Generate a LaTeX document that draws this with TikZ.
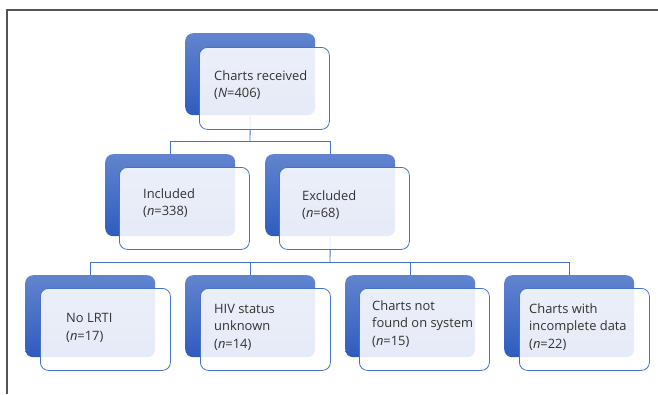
\documentclass[tikz,border=0pt]{standalone}
\usepackage{fontspec}
\setmainfont{Open Sans}
\definecolor{backtop}{RGB}{98,132,206}
\definecolor{backbot}{RGB}{46,92,190}
\definecolor{edgec}{RGB}{70,114,196}
\definecolor{framec}{RGB}{85,85,85}
\definecolor{txt}{RGB}{50,50,50}
\tikzset{
  backbox/.style={rectangle, rounded corners=8pt, top color=backtop, bottom color=backbot,
    draw=none, minimum width=130pt, minimum height=82pt, inner sep=0pt, anchor=north west},
  frontbox/.style={rectangle, rounded corners=8pt, fill=white, fill opacity=0.88,
    draw=edgec, draw opacity=1, line width=0.8pt, minimum width=130pt, minimum height=82pt,
    inner sep=0pt, anchor=north west},
  lbl/.style={anchor=west, align=left, font=\fontsize{12.9}{17.5}\selectfont, text=txt, inner sep=0pt},
  conn/.style={draw=edgec, line width=0.9pt}
}
\begin{document}
\begin{tikzpicture}[x=1pt,y=-1pt]
\useasboundingbox (0,0) rectangle (658,394);
\draw[framec, line width=1.2pt] (7,394) -- (7,10) -- (658,10);
% back boxes
\node[backbox] (topB) at (185,33) {};
\node[backbox] (incB) at (105,154) {};
\node[backbox] (excB) at (265,154) {};
\node[backbox] (n1B) at (25,275) {};
\node[backbox] (n2B) at (185,275) {};
\node[backbox] (n3B) at (345,275) {};
\node[backbox] (n4B) at (504,275) {};
% connectors
\coordinate (j1) at (250,141);
\coordinate (j2) at (330,262);
\draw[conn] (topB.south) -- (j1);
\draw[conn] (j1) -| (incB.north);
\draw[conn] (j1) -| (excB.north);
\draw[conn] (excB.south) -- (j2);
\draw[conn] (j2) -| (n1B.north);
\draw[conn] (j2) -| (n2B.north);
\draw[conn] (j2) -| (n3B.north);
\draw[conn] (j2) -| (n4B.north);
% front boxes
\node[frontbox] (topF) at (199,47) {};
\node[frontbox] (incF) at (119,167) {};
\node[frontbox] (excF) at (279,167) {};
\node[frontbox] (n1F) at (40,288) {};
\node[frontbox] (n2F) at (200,288) {};
\node[frontbox] (n3F) at (359,288) {};
\node[frontbox] (n4F) at (519,288) {};
% labels
\node[lbl] (topT) at (214,85) {Charts received\\(\textit{N}=406)};
\node[lbl] (incT) at (143,203) {Included\\(\textit{n}=338)};
\node[lbl] (excT) at (302,205) {Excluded\\(\textit{n}=68)};
\node[lbl] (n1T) at (66,328) {No LRTI\\(\textit{n}=17)};
\node[lbl] (n2T) at (214,327) {HIV status\\unknown\\(\textit{n}=14)};
\node[lbl] (n3T) at (372,324) {Charts not\\found on system\\(\textit{n}=15)};
\node[lbl] (n4T) at (529,327) {Charts with\\incomplete data\\(\textit{n}=22)};
\end{tikzpicture}
\end{document}
